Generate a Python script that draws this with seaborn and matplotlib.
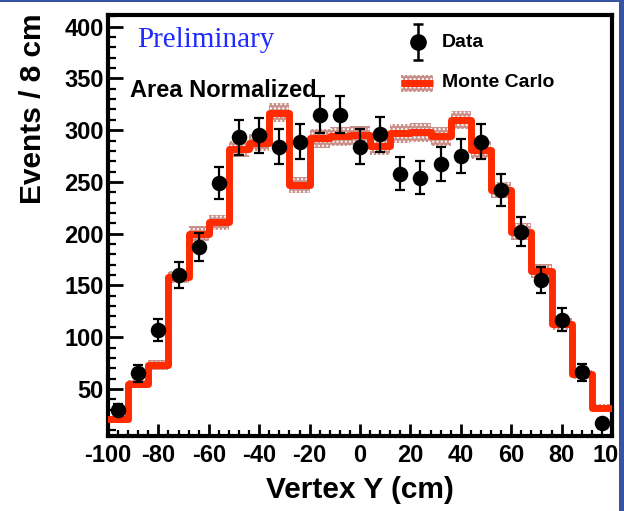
import numpy as np
import pandas as pd
import matplotlib
matplotlib.use("Agg")
import matplotlib.pyplot as plt
from matplotlib.ticker import MultipleLocator
from matplotlib.patches import Rectangle
from matplotlib.lines import Line2D
import seaborn as sns

# Vertex Y binning: 25 bins of 8 cm between -100 and 100 cm
bin_edges = list(range(-100, 101, 8))
bin_centers = [e + 4 for e in bin_edges[:-1]]

# Observed events per bin
data_counts = [30, 65, 107, 160, 187, 249, 293, 295, 284, 289, 315, 315, 284,
               296, 258, 254, 267, 275, 289, 242, 202, 155, 117, 66, 17]

# Area-normalized Monte Carlo prediction and its statistical band half-width
mc_counts = [21, 55, 73, 158, 200, 211, 282, 288, 317, 247, 292, 294, 295,
             285, 297, 298, 294, 310, 281, 242, 202, 164, 113, 64, 32]
mc_err = [3, 4, 5, 6, 7, 7, 8, 8, 9, 8, 9, 9, 9,
          9, 9, 9, 9, 9, 9, 8, 8, 7, 6, 4, 3]

x_ticks = list(range(-100, 101, 20))
y_ticks = list(range(50, 401, 50))

RED = "#ff2a00"
BAND = "#c98f88"
BLUE_TXT = "#1f2bff"
FRAME_BLUE = "#3852a4"

sns.set_style("ticks")
plt.rcParams["font.family"] = ["Liberation Sans", "DejaVu Sans"]
plt.rcParams["hatch.linewidth"] = 1.0
plt.rcParams["axes.unicode_minus"] = False
for key in ("text.color", "axes.labelcolor", "xtick.color", "ytick.color",
            "xtick.labelcolor", "ytick.labelcolor"):
    plt.rcParams[key] = "black"

W, H = 624, 511
fig = plt.figure(figsize=(W / 100, H / 100), dpi=100)
ax_l, ax_r, ax_t, ax_b = 108, 612, 15.3, 435.5
ax = fig.add_axes([ax_l / W, (H - ax_b) / H, (ax_r - ax_l) / W, (ax_b - ax_t) / H])

df_mc = pd.DataFrame({"vy": bin_centers, "n": mc_counts})
df_data = pd.DataFrame({"vy": bin_centers, "n": data_counts})

# MC uncertainty band (hatched boxes around each bin)
lo = np.array(mc_counts) - np.array(mc_err)
hi = np.array(mc_counts) + np.array(mc_err)
ax.stairs(hi, bin_edges, baseline=lo, fill=True, facecolor=BAND,
          edgecolor="white", hatch="....", linewidth=0, zorder=2)

# MC histogram outline
sns.histplot(data=df_mc, x="vy", weights="n", bins=bin_edges, element="step",
             fill=False, color=RED, linewidth=5, ax=ax, zorder=3)

# Data points with Poisson error bars
ax.errorbar(df_data["vy"], df_data["n"], yerr=np.sqrt(df_data["n"]), fmt="none",
            ecolor="black", elinewidth=1.6, capsize=3.5, capthick=1.6, zorder=4)
sns.scatterplot(data=df_data, x="vy", y="n", color="black", s=125,
                edgecolor="black", linewidth=0, ax=ax, zorder=5)

ax.set_xlim(-100, 100)
ax.set_ylim(5, 411)
ax.set_xticks(x_ticks)
ax.set_yticks(y_ticks)
ax.xaxis.set_minor_locator(MultipleLocator(4))
ax.yaxis.set_minor_locator(MultipleLocator(10))
ax.tick_params(axis="both", which="both", direction="in", color="black",
               labelcolor="black", top=False, right=False)
ax.tick_params(axis="x", which="major", length=8.5, width=2, pad=6)
ax.tick_params(axis="x", which="minor", length=4.5, width=1.6)
ax.tick_params(axis="y", which="major", length=11, width=2, pad=3)
ax.tick_params(axis="y", which="minor", length=5.5, width=1.6)
for lab in ax.get_xticklabels() + ax.get_yticklabels():
    lab.set_fontsize(17)
    lab.set_fontweight("bold")
    lab.set_color("black")
for s in ax.spines.values():
    s.set_visible(True)
    s.set_linewidth(3)
    s.set_color("black")
ax.set_xlabel("")
ax.set_ylabel("")

# Axis titles
fig.text(33.5 / W, 1 - 13 / H, "Events / 8 cm", rotation=90, ha="center", va="top",
         fontsize=21.5, fontweight="bold", color="black")
fig.text(360 / W, 1 - 498 / H, "Vertex Y (cm)", ha="center", va="baseline",
         fontsize=21.5, fontweight="bold", color="black")


def ax_frac(px, py):
    return (px - ax_l) / (ax_r - ax_l), (ax_b - py) / (ax_b - ax_t)


# Annotations
x0, y0 = ax_frac(137, 47)
ax.text(x0, y0, "Preliminary", transform=ax.transAxes, ha="left", va="baseline",
        fontsize=21, color=BLUE_TXT, family=["Liberation Serif", "DejaVu Serif"])
x0, y0 = ax_frac(130, 97)
ax.text(x0, y0, "Area Normalized", transform=ax.transAxes, ha="left", va="baseline",
        fontsize=17, fontweight="bold", color="black")

# Legend entries
mx, my = ax_frac(418, 42)
_, ytop = ax_frac(418, 24)
ax.errorbar([mx], [my], yerr=[[ytop - my], [ytop - my]], fmt="o",
            color="black", markersize=11, elinewidth=1.8, capsize=3.5, capthick=1.8,
            transform=ax.transAxes, clip_on=False, zorder=6)
tx, ty = ax_frac(442, 43)
ax.text(tx, ty, "Data", transform=ax.transAxes, ha="left", va="center",
        fontsize=14, fontweight="bold", color="black")

bx0, by0 = ax_frac(401, 92)
bx1, by1 = ax_frac(433, 75)
ax.add_patch(Rectangle((bx0, by0), bx1 - bx0, by1 - by0, transform=ax.transAxes,
                       facecolor=BAND, edgecolor="white", hatch="....", linewidth=0,
                       zorder=6, clip_on=False))
lx, ly = ax_frac(401, 83.5)
ax.add_line(Line2D([bx0, bx1], [ly, ly], transform=ax.transAxes, color=RED,
                   linewidth=5, solid_capstyle="butt", zorder=7, clip_on=False))
tx, ty = ax_frac(442, 83)
ax.text(tx, ty, "Monte Carlo", transform=ax.transAxes, ha="left", va="center",
        fontsize=14, fontweight="bold", color="black")

# Slide frame bars along the top and right edges
fig.add_artist(Rectangle((0, 1 - 2.5 / H), 1, 2.5 / H, transform=fig.transFigure,
                         facecolor=FRAME_BLUE, edgecolor="none", zorder=20))
fig.add_artist(Rectangle((618.5 / W, 0), 5.5 / W, 1, transform=fig.transFigure,
                         facecolor=FRAME_BLUE, edgecolor="none", zorder=20))

fig.savefig("out.png", dpi=100)
